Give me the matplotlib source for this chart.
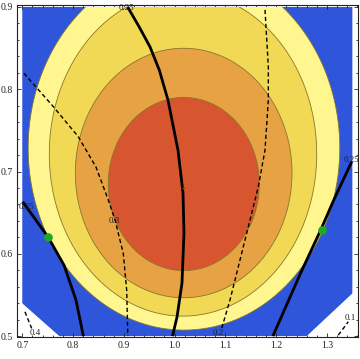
import numpy as np
import matplotlib
matplotlib.use("Agg")
import matplotlib.pyplot as plt
from matplotlib.patches import Polygon
from matplotlib.ticker import MultipleLocator, FormatStrFormatter

# ---- filled contour bands (outer -> inner) ----
band_names = ["light yellow", "yellow", "orange", "red"]
band_cx = [1.0184, 1.0165, 1.0178, 1.0180]      # centre x
band_cy = [0.7286, 0.7213, 0.6982, 0.6848]      # centre y
band_a = [0.3068, 0.2633, 0.2133, 0.1487]       # half width
band_b = [0.2213, 0.1970, 0.1516, 0.1052]       # half height

# plotted region (corners cut off)
region_x = [0.7, 0.7, 0.7729, 1.2601, 1.35, 1.35]
region_y = [0.9, 0.5398, 0.5, 0.5, 0.5519, 0.9]

# ---- contour lines of the second function ----
solid_mid_x = [0.9075, 0.9300, 0.9516, 0.9700, 0.9869, 1.0066, 1.0165, 1.0184, 1.0145, 1.0047, 0.9958]
solid_mid_y = [0.9, 0.8760, 0.8514, 0.8230, 0.7869, 0.7261, 0.6739, 0.6252, 0.5644, 0.5231, 0.5]
solid_left_x = [0.7008, 0.7512, 0.7821, 0.8058, 0.8203]
solid_left_y = [0.6633, 0.6200, 0.5863, 0.5438, 0.5]
solid_right_x = [1.3487, 1.3133, 1.2876, 1.2482, 1.1935]
solid_right_y = [0.7119, 0.6653, 0.6289, 0.5767, 0.5]
dash_03_x = [0.7033, 0.7611, 0.8103, 0.8451, 0.8694, 0.8826, 0.8989, 0.9056, 0.9078]
dash_03_y = [0.8194, 0.7789, 0.7423, 0.7055, 0.6654, 0.6411, 0.6005, 0.5559, 0.5]
dash_02_x = [1.1780, 1.1845, 1.1845, 1.1780, 1.1648, 1.1451, 1.1254, 1.1090, 1.0927]
dash_02_y = [0.8964, 0.8274, 0.7869, 0.7261, 0.6815, 0.6329, 0.5843, 0.5438, 0.5094]
dash_04_x = [0.7053, 0.7185]
dash_04_y = [0.5295, 0.5094]
dash_01_x = [1.3223, 1.3420]
dash_01_y = [0.5012, 0.5174]

label_text = ["0.25", "0.25", "0.25", "0.3", "0.2", "0.4", "0.1"]
label_x = [0.9042, 0.7087, 1.3487, 0.8812, 1.0860, 0.7250, 1.3453]
label_y = [0.8984, 0.6572, 0.7140, 0.6402, 0.5033, 0.5033, 0.5215]

dots_x = [0.7512, 1.2896]
dots_y = [0.6200, 0.6289]
centre_x = [1.0165]
centre_y = [0.6800]

xticks = [0.7, 0.8, 0.9, 1.0, 1.1, 1.2, 1.3]
yticks = [0.5, 0.6, 0.7, 0.8, 0.9]

# ---- styles ----
blue = "#2E55DA"
band_colors = ["#FFF690", "#F1D955", "#E7A243", "#D7552F"]
edge_col = "#86762C"

fig = plt.figure(figsize=(3.6, 3.59), dpi=100)
ax = fig.add_axes([17 / 360, 1 - 336.5 / 359, 341 / 360, 331.5 / 359])

region = Polygon(np.column_stack([region_x, region_y]), closed=True,
                 facecolor=blue, edgecolor="none", zorder=1)
ax.add_patch(region)

t = np.linspace(0, 2 * np.pi, 400)
for i in range(len(band_names)):
    bx = band_cx[i] + band_a[i] * np.cos(t)
    by = band_cy[i] + band_b[i] * np.sin(t)
    f = ax.fill(bx, by, facecolor=band_colors[i], edgecolor=edge_col,
                linewidth=0.6, zorder=2 + i)[0]
    f.set_clip_path(region)

solid_kw = dict(color="black", linewidth=2.0, zorder=10,
                solid_capstyle="butt", solid_joinstyle="round")
dash_kw = dict(color="black", linewidth=1.0, zorder=10, dashes=(3, 2))
ax.plot(solid_mid_x, solid_mid_y, **solid_kw)
ax.plot(solid_left_x, solid_left_y, **solid_kw)
ax.plot(solid_right_x, solid_right_y, **solid_kw)
ax.plot(dash_03_x, dash_03_y, **dash_kw)
ax.plot(dash_02_x, dash_02_y, **dash_kw)
ax.plot(dash_04_x, dash_04_y, **dash_kw)
ax.plot(dash_01_x, dash_01_y, **dash_kw)

for s, x, y in zip(label_text, label_x, label_y):
    ax.text(x, y, s, fontsize=6.5, family="Liberation Serif", color="#222222",
            ha="center", va="center", zorder=12)

ax.plot(dots_x, dots_y, "o", color="#1DAA22", markersize=6.2,
        markeredgewidth=0, zorder=13)
ax.plot(centre_x, centre_y, "o", color="#7A2E14", markersize=1.8,
        markeredgewidth=0, zorder=11)

ax.set_xlim(0.6896, 1.3611)
ax.set_ylim(0.4995, 0.9024)
ax.set_xticks(xticks)
ax.set_yticks(yticks)
ax.xaxis.set_minor_locator(MultipleLocator(0.02))
ax.yaxis.set_minor_locator(MultipleLocator(0.02))
ax.xaxis.set_major_formatter(FormatStrFormatter("%.1f"))
ax.yaxis.set_major_formatter(FormatStrFormatter("%.1f"))
ax.tick_params(which="both", direction="in", top=True, right=True,
               labelsize=7, colors="#222222", width=0.6)
ax.tick_params(which="major", length=3.2, pad=3)
ax.tick_params(which="minor", length=1.6)
for lab in ax.get_xticklabels() + ax.get_yticklabels():
    lab.set_family("Liberation Serif")
for sp in ax.spines.values():
    sp.set_linewidth(0.8)
    sp.set_color("#222222")

fig.savefig("out.png", dpi=100)
